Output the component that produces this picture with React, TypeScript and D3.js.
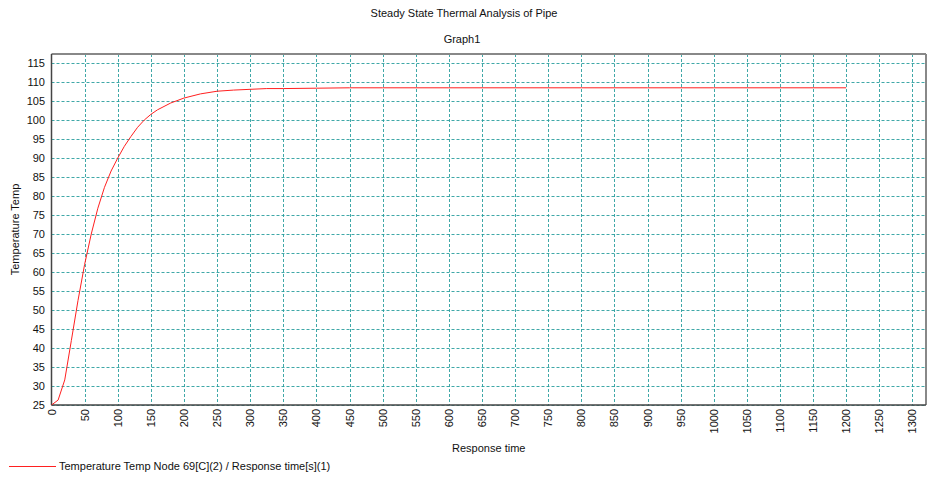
import React from "react";
import * as d3 from "d3";

const timeS: number[] = [0, 10, 20, 30, 40, 50, 60, 70, 80, 90, 100, 110, 120, 130, 140, 150, 160, 180, 200, 225, 250, 275, 300, 325, 350, 400, 450, 500, 600, 700, 800, 900, 1000, 1100, 1200];
const tempC: number[] = [25, 26.3, 31.6, 42, 52.5, 62, 70, 76.8, 82.3, 86.6, 90, 93.1, 95.7, 98.1, 100, 101.5, 102.7, 104.5, 105.8, 106.9, 107.6, 107.9, 108.1, 108.3, 108.3, 108.4, 108.5, 108.5, 108.5, 108.5, 108.5, 108.5, 108.5, 108.5, 108.5];
const xTicks: number[] = d3.range(0, 1301, 50);
const yTicks: number[] = d3.range(25, 116, 5);

const W = 928, H = 478;
const m = { left: 51.5, right: 926, top: 54, bottom: 405 };
const font = "'Liberation Sans', Arial, sans-serif";

export default function App() {
  const x = d3.scaleLinear().domain([0, 1320.5]).range([m.left, m.right]);
  const y = d3.scaleLinear().domain([25, 117.4]).range([m.bottom, m.top]);
  const pts: [number, number][] = timeS.map((t, i) => [t, tempC[i]]);
  const line = d3.line<[number, number]>().x(d => x(d[0])).y(d => y(d[1]));
  const grid = "#1f9a9a";
  return (
    <svg width={W} height={H} style={{ position: "absolute", left: 0, top: 0 }} fontFamily={font}>
      <rect width={W} height={H} fill="#fff" />
      <text x={464} y={17} fontSize={11} textAnchor="middle" fill="#111">Steady State Thermal Analysis of Pipe</text>
      <text x={462} y={43} fontSize={11} textAnchor="middle" fill="#111">Graph1</text>
      {yTicks.map(v => (
        <g key={"y" + v}>
          <line x1={m.left} x2={m.right} y1={Math.round(y(v)) + 0.5} y2={Math.round(y(v)) + 0.5} stroke={grid} strokeDasharray="3,2" strokeWidth={1} opacity={0.85} />
          <text x={45} y={y(v) + 4} fontSize={11} textAnchor="end" fill="#111">{v}</text>
        </g>
      ))}
      {xTicks.map(v => (
        <g key={"x" + v}>
          {v > 0 && <line x1={Math.round(x(v)) + 0.5} x2={Math.round(x(v)) + 0.5} y1={m.top} y2={m.bottom} stroke={grid} strokeDasharray="3,2" strokeWidth={1} opacity={0.85} />}
          <text transform={`translate(${x(v) + 4},${409}) rotate(-90)`} fontSize={11} textAnchor="end" fill="#111">{v}</text>
        </g>
      ))}
      <line x1={m.left} x2={m.right} y1={m.top} y2={m.top} stroke="#888" strokeWidth={2} />
      <line x1={m.right} x2={m.right} y1={m.top} y2={m.bottom} stroke="#888" strokeWidth={2} />
      <line x1={m.left} x2={m.left} y1={m.top} y2={m.bottom} stroke="#444" strokeWidth={1.5} />
      <line x1={m.left} x2={m.right} y1={m.bottom} y2={m.bottom} stroke="#444" strokeWidth={1.5} />
      <path d={line(pts) ?? ""} fill="none" stroke="#ff2020" strokeWidth={1} />
      <text transform={`translate(19,${(m.top + m.bottom) / 2}) rotate(-90)`} fontSize={11} textAnchor="middle" fill="#111">Temperature Temp</text>
      <text x={(m.left + m.right) / 2} y={452} fontSize={11} textAnchor="middle" fill="#111">Response time</text>
      <line x1={9} x2={56} y1={466.5} y2={466.5} stroke="#ff2020" strokeWidth={1} />
      <text x={59} y={470} fontSize={11} fill="#111">Temperature Temp Node 69[C](2) / Response time[s](1)</text>
    </svg>
  );
}
